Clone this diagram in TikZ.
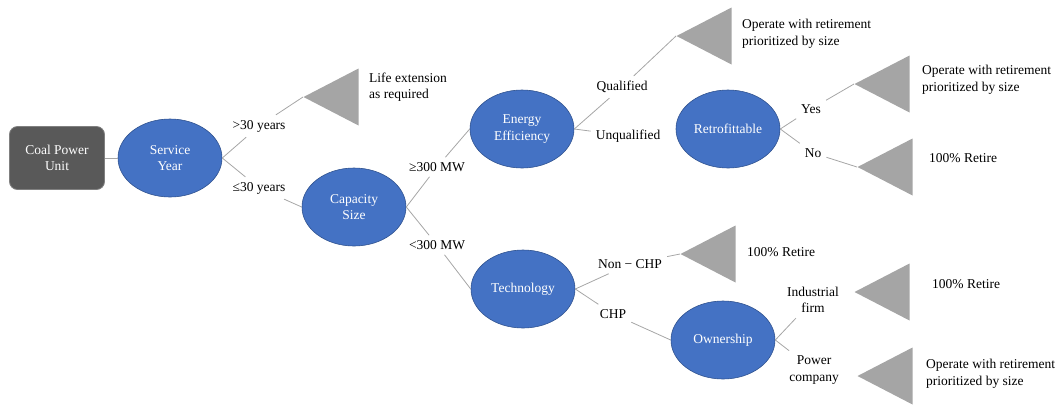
\documentclass[tikz,border=0pt]{standalone}
\usepackage{fontspec}
\setmainfont{Liberation Serif}
\usepackage{xcolor}
\usetikzlibrary{shapes.geometric,positioning}
\definecolor{unitblue}{HTML}{4472C4}
\definecolor{unitedge}{HTML}{2F528F}
\definecolor{rootgray}{HTML}{595959}
\definecolor{rootedge}{HTML}{808080}
\definecolor{trigray}{HTML}{A5A5A5}
\definecolor{linkgray}{HTML}{A6A6A6}
\tikzset{
  rootbox/.style={rectangle, draw=rootedge, line width=0.8pt, rounded corners=8pt,
                  fill=rootgray, text=white, align=center,
                  minimum width=95pt, minimum height=63pt,
                  font=\rmfamily\fontsize{13.5}{16.5}\selectfont},
  decision/.style={ellipse, draw=unitedge, line width=0.6pt, fill=unitblue,
                   text=white, align=center, inner sep=0pt,
                   minimum width=104pt, minimum height=78pt,
                   font=\rmfamily\fontsize{13.5}{16.5}\selectfont},
  outcome/.style={isosceles triangle, shape border rotate=180,
                  isosceles triangle stretches, fill=trigray, draw=none,
                  minimum width=57pt, minimum height=55pt, inner sep=0pt, anchor=apex},
  branch/.style={align=center, inner sep=5pt, font=\rmfamily\fontsize{13.5}{16.5}\selectfont},
  result/.style={anchor=west, align=left, inner sep=0pt,
                 font=\rmfamily\fontsize{13.5}{16.5}\selectfont},
  link/.style={draw=linkgray, line width=0.8pt},
}

\begin{document}
\begin{tikzpicture}[x=1pt, y=-1pt]
  \useasboundingbox (0,0) rectangle (1057,408);
  % decision nodes
  \node[rootbox]  (coal)  at (57,158)  {Coal Power\\Unit};
  \node[decision] (syear) at (170,158) {Service\\Year};
  \node[decision] (csize) at (354,207) {Capacity\\Size};
  \node[decision] (eff)   at (522,129) {Energy\\Efficiency};
  \node[decision] (tech)  at (523,289) {Technology};
  \node[decision] (retro) at (728,129) {Retrofittable};
  \node[decision] (owner) at (723,340) {Ownership};
  % end states
  \node[outcome] (endA) at (303,97)  {};
  \node[outcome] (endB) at (676,36)  {};
  \node[outcome] (endC) at (854,84)  {};
  \node[outcome] (endD) at (857,167) {};
  \node[outcome] (endE) at (680,254) {};
  \node[outcome] (endF) at (854,292) {};
  \node[outcome] (endG) at (857,376) {};
  \node[result] at (369,87)  {Life extension\\as required};
  \node[result] at (742,34)  {Operate with retirement\\prioritized by size};
  \node[result] at (922,80)  {Operate with retirement\\prioritized by size};
  \node[result] at (929,158) {100\% Retire};
  \node[result] at (747,252) {100\% Retire};
  \node[result] at (932,284) {100\% Retire};
  \node[result] at (926,374) {Operate with retirement\\prioritized by size};
  % branch labels
  \node[branch] (old)    at (259,126) {>30 years};
  \node[branch] (young)  at (259,188) {≤30 years};
  \node[branch] (large)  at (437,167) {≥300 MW};
  \node[branch] (small)  at (437,245) {<300 MW};
  \node[branch] (qual)   at (622,87)  {Qualified};
  \node[branch] (unqual) at (628,136) {Unqualified};
  \node[branch] (yes)    at (811,109) {Yes};
  \node[branch] (no)     at (813,153) {No};
  \node[branch] (nonchp) at (630,264) {Non − CHP};
  \node[branch] (chp)    at (613,314) {CHP};
  \node[branch] (indus)  at (813,300) {Industrial\\firm};
  \node[branch] (power)  at (814,370) {Power\\company};
  % connectors
  \draw[link] (coal) -- (syear);
  \draw[link] (syear.east) -- (old) -- (endA.apex);
  \draw[link] (syear.east) -- (young) -- (csize.west);
  \draw[link] (csize.east) -- (large) -- (eff.west);
  \draw[link] (csize.east) -- (small) -- (tech.west);
  \draw[link] (eff.east) -- (qual) -- (endB.apex);
  \draw[link] (eff.east) -- (unqual);
  \draw[link] (retro.east) -- (yes) -- (endC.apex);
  \draw[link] (retro.east) -- (no) -- (endD.apex);
  \draw[link] (tech.east) -- (nonchp) -- (endE.apex);
  \draw[link] (tech.east) -- (chp) -- (owner.west);
  \draw[link] (owner.east) -- (indus);
  \draw[link] (owner.east) -- (power);
\end{tikzpicture}
\end{document}
